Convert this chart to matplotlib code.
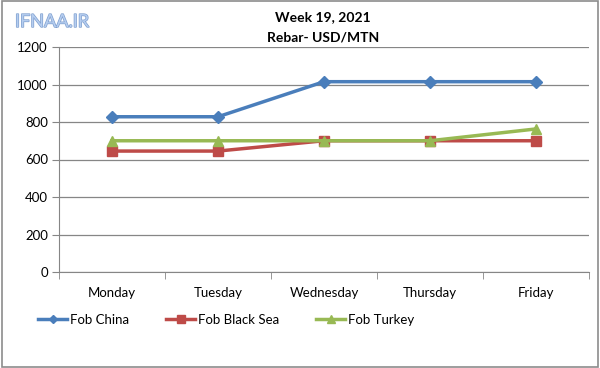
import matplotlib
matplotlib.use("Agg")
import matplotlib.pyplot as plt
import matplotlib.patheffects as pe
from matplotlib.patches import Rectangle

days = ["Monday", "Tuesday", "Wednesday", "Thursday", "Friday"]
fob_china = [828, 828, 1015, 1015, 1015]
fob_black_sea = [645, 645, 700, 700, 700]
fob_turkey = [700, 700, 700, 700, 763]
yticks = [0, 200, 400, 600, 800, 1000, 1200]

plt.rcParams['font.family'] = ['Lato', 'DejaVu Sans']

fig = plt.figure(figsize=(6.0, 3.68), dpi=100)
fig.patches.append(Rectangle((0.003, 0.003), 0.994, 0.994, transform=fig.transFigure,
                             fill=False, edgecolor='#8c8c8c', linewidth=1.2))

ax = fig.add_axes([59/600, 1 - 272/368, (589-59)/600, (272-47)/368])
x = list(range(len(days)))
ax.plot(x, fob_china, color='#4a7ebb', marker='D', markersize=6, linewidth=2.5, label='Fob China')
ax.plot(x, fob_black_sea, color='#be4b48', marker='s', markersize=7, linewidth=2.5, label='Fob Black Sea')
ax.plot(x, fob_turkey, color='#98b954', marker='^', markersize=7, linewidth=2.5, label='Fob Turkey')

ax.set_xlim(-0.5, 4.5)
ax.set_ylim(0, 1200)
ax.set_yticks(yticks)
ax.set_yticklabels([str(v) for v in yticks], fontsize=9.5)
ax.set_xticks(x)
ax.set_xticklabels(days, fontsize=9.5)
ax.set_xticks([i + 0.5 for i in range(-1, 5)], minor=True)
ax.tick_params(axis='x', which='major', length=0, pad=11)
ax.tick_params(axis='x', which='minor', length=5, color='#868686', direction='out')
ax.tick_params(axis='y', length=5, color='#868686', direction='out', pad=3)
ax.grid(axis='y', color='#868686', linewidth=0.9)
ax.set_axisbelow(True)
for s in ['top', 'right']:
    ax.spines[s].set_visible(False)
for s in ['left', 'bottom']:
    ax.spines[s].set_color('#868686')

fig.text(0.538, 1 - 17/368, "Week 19, 2021", ha='center', va='center', fontsize=10, fontweight='bold')
fig.text(0.538, 1 - 37/368, "Rebar- USD/MTN", ha='center', va='center', fontsize=10, fontweight='bold')
fig.text(15/600, 1 - 22/368, "IFNAA.IR", ha='left', va='center', fontsize=13, color='#b5cdef',
         path_effects=[pe.withStroke(linewidth=1.0, foreground='#7f9fcf')])

fig.legend(loc='center', bbox_to_anchor=(0.377, 1 - 320/368), ncol=3, frameon=False,
           fontsize=9.5, handlelength=2.2, columnspacing=2.8, handletextpad=0.2,
           markerscale=0.75)

fig.savefig("out.png", dpi=100)
